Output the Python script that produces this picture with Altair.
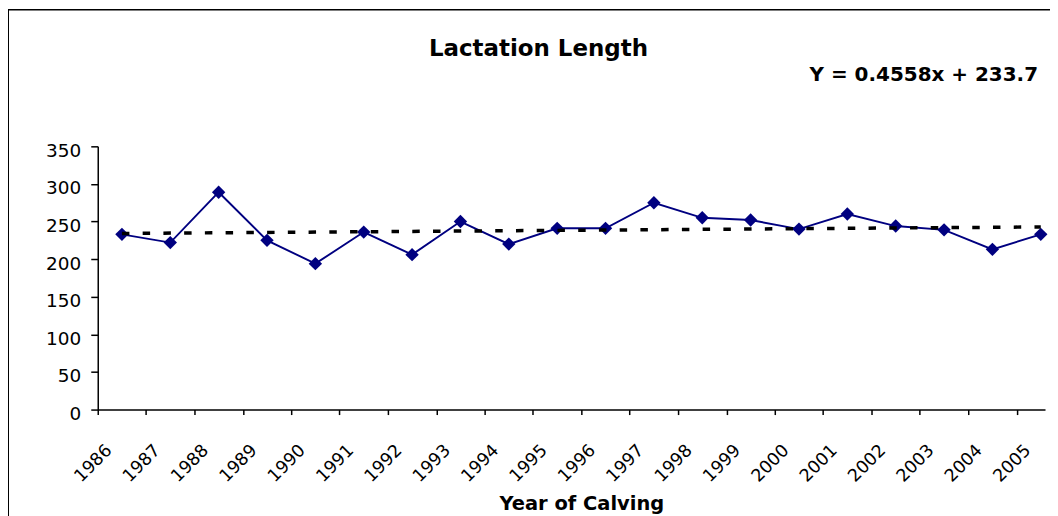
import altair as alt
import pandas as pd

# ---- data ----
YEARS = ["1986", "1987", "1988", "1989", "1990", "1991", "1992", "1993", "1994", "1995",
         "1996", "1997", "1998", "1999", "2000", "2001", "2002", "2003", "2004", "2005"]
LACTATION = [233, 222, 289, 225, 194, 236, 206, 250, 220, 241,
             241, 275, 255, 252, 240, 260, 244, 239, 213, 233]
TREND_SLOPE = 0.4558
TREND_INTERCEPT = 233.7
Y_TICKS = [0, 50, 100, 150, 200, 250, 300, 350]
TITLE = "Lactation Length"
EQUATION = "Y = 0.4558x + 233.7"
X_TITLE = "Year of Calving"

# ---- layout ----
W, H = 950, 264
BAND = 48.5
X_MAX = W / BAND
FONT = "DejaVu Sans"
NAVY = "#000080"

n = len(YEARS)
df = pd.DataFrame({"pos": [i + 0.5 for i in range(n)], "year": YEARS, "value": LACTATION})
trend_df = pd.DataFrame({
    "pos": [0.5, n - 0.5],
    "value": [TREND_SLOPE * 1 + TREND_INTERCEPT, TREND_SLOPE * n + TREND_INTERCEPT],
})

label_expr = "[" + ",".join("'%s'" % y for y in YEARS) + "][datum.value]"

x_enc = alt.X(
    "pos:Q",
    scale=alt.Scale(domain=[0, X_MAX], nice=False, zero=False),
    axis=alt.Axis(
        values=list(range(n)), labelExpr=label_expr, grid=False,
        domainColor="black", domainWidth=1.5, tickColor="black", tickWidth=1.5, tickSize=5,
        labelAngle=-45, labelAlign="right", labelBaseline="middle", labelOffset=11,
        labelPadding=33, labelFont=FONT, labelFontSize=17.5, labelColor="black",
        labelOverlap=False, labelFlush=False, labelBound=False,
        title=X_TITLE, titleFont=FONT, titleFontSize=19.5, titleFontWeight="bold",
        titleColor="black", titleX=485, titleY=100, titleBaseline="alphabetic", titleAlign="center",
    ),
)
y_enc = alt.Y(
    "value:Q",
    scale=alt.Scale(domain=[0, 350], nice=False),
    axis=alt.Axis(
        values=Y_TICKS, title=None, grid=False,
        domainColor="black", domainWidth=1.5, tickColor="black", tickWidth=1.5, tickSize=7,
        labelPadding=10, labelFont=FONT, labelFontSize=18.5, labelColor="black",
        labelBaseline="middle", labelOffset=4,
    ),
)

line = alt.Chart(df).mark_line(color=NAVY, strokeWidth=1.9).encode(x=x_enc, y=y_enc)
pts = alt.Chart(df).mark_point(shape="diamond", filled=True, size=180, color=NAVY, opacity=1).encode(x=x_enc, y=y_enc)
trend = alt.Chart(trend_df).mark_line(color="black", strokeWidth=3.5, strokeDash=[7.5, 13.3]).encode(x=x_enc, y=y_enc)

title = alt.Chart(pd.DataFrame({"t": [TITLE]})).mark_text(
    font=FONT, fontSize=23, fontWeight="bold", color="black", align="center", baseline="alphabetic"
).encode(text="t:N", x=alt.value(442), y=alt.value(-90.5))
eq = alt.Chart(pd.DataFrame({"t": [EQUATION]})).mark_text(
    font=FONT, fontSize=20, fontWeight="bold", color="black", align="right", baseline="alphabetic"
).encode(text="t:N", x=alt.value(943), y=alt.value(-66))
frame = alt.Chart(pd.DataFrame({"a": [0]})).mark_rect(
    filled=False, stroke="black", strokeWidth=1.5
).encode(x=alt.value(-89.75), x2=alt.value(1000), y=alt.value(-137), y2=alt.value(420))

chart = alt.layer(frame, line, pts, trend, title, eq).properties(
    width=W, height=H,
    autosize=alt.AutoSizeParams(type="none"),
    padding={"left": 90, "top": 138, "right": 5, "bottom": 106},
    background="white",
).configure_view(strokeWidth=0)

chart.save("out.html", embed_options={"renderer": "svg", "actions": False})
